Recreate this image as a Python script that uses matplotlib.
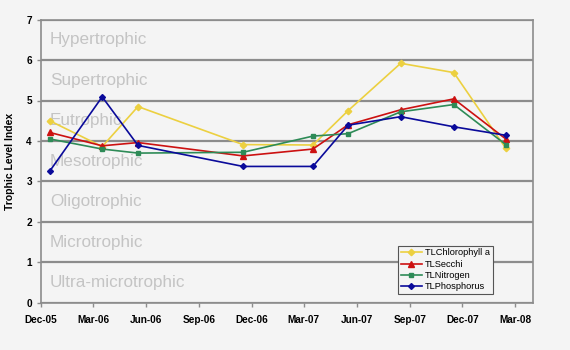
import datetime as dt
import matplotlib
matplotlib.use('Agg')
import matplotlib.pyplot as plt
import matplotlib.dates as mdates

# sample dates and trophic level index values
dates = ['2005-12-16', '2006-03-17', '2006-05-18', '2006-11-16', '2007-03-17',
         '2007-05-17', '2007-08-16', '2007-11-16', '2008-02-14']
chlorophyll = [4.50, 3.86, 4.85, 3.91, 3.90, 4.75, 5.92, 5.69, 3.82]
secchi = [4.21, 3.88, 3.96, 3.63, 3.80, 4.40, 4.77, 5.04, 4.05]
nitrogen = [4.05, 3.80, 3.70, 3.72, 4.12, 4.18, 4.72, 4.90, 3.91]
phosphorus = [3.25, 5.09, 3.89, 3.37, 3.37, 4.39, 4.60, 4.35, 4.14]

bands = ['Ultra-microtrophic', 'Microtrophic', 'Oligotrophic', 'Mesotrophic',
         'Eutrophic', 'Supertrophic', 'Hypertrophic']

BG = '#f4f4f4'
GRID = '#8c8c8c'

plt.rcParams['font.family'] = ['Liberation Sans', 'DejaVu Sans']

x = [dt.datetime.strptime(d, '%Y-%m-%d') for d in dates]

fig = plt.figure(figsize=(5.7, 3.5), dpi=100, facecolor=BG)
ax = fig.add_axes([0.0719, 0.135, 0.863, 0.809], facecolor=BG)

# band labels
for i, name in enumerate(bands):
  ax.text(0.018, (i + 0.5) / 7, name, transform=ax.transAxes, fontsize=12.3,
          color='#c4c4c4', va='center', ha='left', zorder=1)

ax.plot(x, chlorophyll, color='#ecd040', marker='D', markersize=3.3, lw=1.2,
        label='TLChlorophyll a', zorder=3)
ax.plot(x, secchi, color='#cc1111', marker='^', markersize=4.3, lw=1.2,
        label='TLSecchi', zorder=3)
ax.plot(x, nitrogen, color='#2e8b57', marker='s', markersize=3.3, lw=1.2,
        label='TLNitrogen', zorder=3)
ax.plot(x, phosphorus, color='#0a0a9a', marker='D', markersize=3.0, lw=1.2,
        label='TLPhosphorus', zorder=3)

ax.set_xlim(dt.datetime(2005, 12, 1), dt.datetime(2008, 4, 1))
ax.set_ylim(0, 7)
ax.set_yticks(range(0, 8))
ax.xaxis.set_major_locator(mdates.MonthLocator(bymonth=(3, 6, 9, 12)))
ax.xaxis.set_major_formatter(mdates.DateFormatter('%b-%y'))

ax.yaxis.grid(True, color=GRID, lw=1.6, zorder=2)
ax.set_axisbelow(True)
for s in ax.spines.values():
  s.set_color(GRID)
  s.set_linewidth(1.2)

ax.tick_params(axis='both', colors=GRID, length=3, width=1, labelcolor='black',
               labelsize=7.2)
for lab in ax.get_xticklabels() + ax.get_yticklabels():
  lab.set_fontweight('bold')
ax.tick_params(axis='x', pad=6)

ax.set_ylabel('Trophic Level Index', fontsize=7.5, fontweight='bold', labelpad=8)

leg = ax.legend(loc='lower right', bbox_to_anchor=(0.918, 0.03), fontsize=6.7,
                frameon=True, fancybox=False, framealpha=1, borderpad=0.3,
                labelspacing=0.25, handlelength=2.3, handletextpad=0.3,
                borderaxespad=0)
leg.get_frame().set_facecolor(BG)
leg.get_frame().set_edgecolor('#555555')
leg.get_frame().set_linewidth(0.8)

fig.savefig('out.png', dpi=100, facecolor=BG)
